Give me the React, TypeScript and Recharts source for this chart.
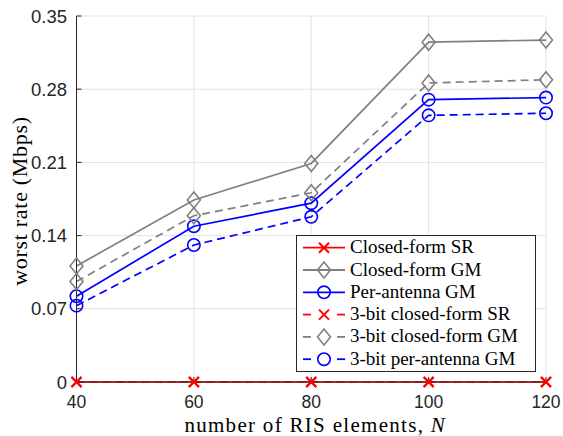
import React from 'react';
import { LineChart, Line, XAxis, YAxis, CartesianGrid, Legend } from 'recharts';

// Number of RIS elements on the x axis
const nValues = [40, 60, 80, 100, 120];

// Worst-user rate (Mbps) for each scheme
const closedFormSR = [0, 0, 0, 0, 0];
const closedFormGM = [0.111, 0.174, 0.209, 0.325, 0.327];
const perAntennaGM = [0.082, 0.149, 0.171, 0.27, 0.272];
const bit3ClosedFormSR = [0, 0, 0, 0, 0];
const bit3ClosedFormGM = [0.096, 0.159, 0.181, 0.286, 0.289];
const bit3PerAntennaGM = [0.073, 0.131, 0.158, 0.255, 0.257];

const xTicks = [40, 60, 80, 100, 120];
const yTicks = [0, 0.07, 0.14, 0.21, 0.28, 0.35];

const RED = '#ff0000';
const GRAY = '#808080';
const BLUE = '#0000ff';
const AXIS = '#262626';
const SERIF = '"Liberation Serif", "Times New Roman", serif';
const SANS = '"Liberation Sans", Arial, Helvetica, sans-serif';

type MarkerKind = 'x' | 'diamond' | 'circle';

interface SeriesDef {
  key: string;
  name: string;
  values: number[];
  color: string;
  dashed: boolean;
  marker: MarkerKind;
}

const series: SeriesDef[] = [
  { key: 'cfSR', name: 'Closed-form SR', values: closedFormSR, color: RED, dashed: false, marker: 'x' },
  { key: 'cfGM', name: 'Closed-form GM', values: closedFormGM, color: GRAY, dashed: false, marker: 'diamond' },
  { key: 'paGM', name: 'Per-antenna GM', values: perAntennaGM, color: BLUE, dashed: false, marker: 'circle' },
  { key: 'b3cfSR', name: '3-bit closed-form SR', values: bit3ClosedFormSR, color: RED, dashed: true, marker: 'x' },
  { key: 'b3cfGM', name: '3-bit closed-form GM', values: bit3ClosedFormGM, color: GRAY, dashed: true, marker: 'diamond' },
  { key: 'b3paGM', name: '3-bit per-antenna GM', values: bit3PerAntennaGM, color: BLUE, dashed: true, marker: 'circle' },
];

const data = nValues.map((n, i) => {
  const row: Record<string, number> = { n };
  series.forEach((s) => {
    row[s.key] = s.values[i];
  });
  return row;
});

function Marker({ kind, x, y, color }: { kind: MarkerKind; x: number; y: number; color: string }) {
  if (kind === 'x') {
    const h = 5;
    return (
      <path
        d={`M${x - h},${y - h}L${x + h},${y + h}M${x - h},${y + h}L${x + h},${y - h}`}
        stroke={color}
        strokeWidth={2}
        fill="none"
      />
    );
  }
  if (kind === 'diamond') {
    const w = 6.5;
    const h = 8;
    return (
      <polygon
        points={`${x},${y - h} ${x + w},${y} ${x},${y + h} ${x - w},${y}`}
        stroke={color}
        strokeWidth={1.6}
        fill="none"
      />
    );
  }
  return <circle cx={x} cy={y} r={6.2} stroke={color} strokeWidth={1.6} fill="none" />;
}

const makeDot = (kind: MarkerKind, color: string) => (props: any) => {
  const { cx, cy, index } = props;
  if (cx == null || cy == null) return <g key={`d-${index}`} />;
  return (
    <g key={`d-${index}`}>
      <Marker kind={kind} x={cx} y={cy} color={color} />
    </g>
  );
};

function LegendBox() {
  const w = 240;
  const h = 137;
  const rowTop = 12.7;
  const rowGap = 22.3;
  return (
    <svg width={w} height={h} style={{ display: 'block' }}>
      <rect x={0.5} y={0.5} width={w - 1} height={h - 1} fill="#ffffff" stroke={AXIS} strokeWidth={1} />
      {series.map((s, i) => {
        const y = rowTop + i * rowGap;
        return (
          <g key={s.key}>
            {s.dashed ? (
              <>
                <line x1={7} y1={y} x2={15} y2={y} stroke={s.color} strokeWidth={1.8} />
                <line x1={41} y1={y} x2={49} y2={y} stroke={s.color} strokeWidth={1.8} />
              </>
            ) : (
              <line x1={7} y1={y} x2={49} y2={y} stroke={s.color} strokeWidth={1.8} />
            )}
            <Marker kind={s.marker} x={28} y={y} color={s.color} />
            <text x={54} y={y + 5.5} fontFamily={SERIF} fontSize={19} fill="#000000">
              {s.name}
            </text>
          </g>
        );
      })}
    </svg>
  );
}

function XLabel(props: any) {
  const vb = props.viewBox || { x: 76.5, y: 382, width: 469.5 };
  const cx = vb.x + vb.width / 2 + 4;
  return (
    <text
      x={cx}
      y={vb.y + 49.5}
      textAnchor="middle"
      fontFamily={SERIF}
      fontSize={21}
      letterSpacing={1.3}
      fill="#000000"
    >
      <tspan>number of RIS elements, </tspan>
      <tspan fontStyle="italic">N</tspan>
    </text>
  );
}

function YLabel() {
  const x = 27;
  const y = 201;
  return (
    <text
      x={x}
      y={y}
      transform={`rotate(-90 ${x} ${y})`}
      textAnchor="middle"
      fontFamily={SERIF}
      fontSize={22}
      letterSpacing={0.7}
      fill="#000000"
    >
      worst rate (Mbps)
    </text>
  );
}

export default function App() {
  return (
    <div style={{ position: 'absolute', left: 0, top: 0, width: 563, height: 436, background: '#ffffff' }}>
      <LineChart width={563} height={436} data={data} margin={{ top: 16, right: 17, bottom: 0, left: 0 }}>
        <CartesianGrid stroke="#e3e3e3" strokeWidth={1} />
        <XAxis
          dataKey="n"
          type="number"
          domain={[40, 120]}
          ticks={xTicks}
          interval={0}
          height={54}
          tickSize={-5}
          tickMargin={19}
          stroke={AXIS}
          tick={{ fill: AXIS, fontSize: 17.5, fontFamily: SANS }}
          label={<XLabel />}
        />
        <XAxis
          xAxisId="top"
          orientation="top"
          dataKey="n"
          type="number"
          domain={[40, 120]}
          ticks={xTicks}
          interval={0}
          height={0}
          tickSize={-5}
          tick={false}
          stroke={AXIS}
        />
        <YAxis
          type="number"
          domain={[0, 0.35]}
          ticks={yTicks}
          interval={0}
          width={76.5}
          tickSize={-5}
          tickMargin={14.5}
          stroke={AXIS}
          tick={{ fill: AXIS, fontSize: 18.5, fontFamily: SANS }}
          tickFormatter={(v: number) => String(v)}
          label={<YLabel />}
        />
        <YAxis
          yAxisId="right"
          orientation="right"
          type="number"
          domain={[0, 0.35]}
          ticks={yTicks}
          interval={0}
          width={0}
          tickSize={-5}
          tick={false}
          stroke={AXIS}
        />
        {series.map((s) => (
          <Line
            key={s.key}
            type="linear"
            dataKey={s.key}
            name={s.name}
            stroke={s.color}
            strokeWidth={1.7}
            strokeDasharray={s.dashed ? '8 5' : undefined}
            dot={makeDot(s.marker, s.color)}
            activeDot={false}
            isAnimationActive={false}
          />
        ))}
        <Legend
          layout="horizontal"
          verticalAlign="middle"
          align="center"
          content={() => <LegendBox />}
          wrapperStyle={{ position: 'absolute', left: 296, top: 235, width: 240, height: 137 }}
        />
      </LineChart>
    </div>
  );
}
